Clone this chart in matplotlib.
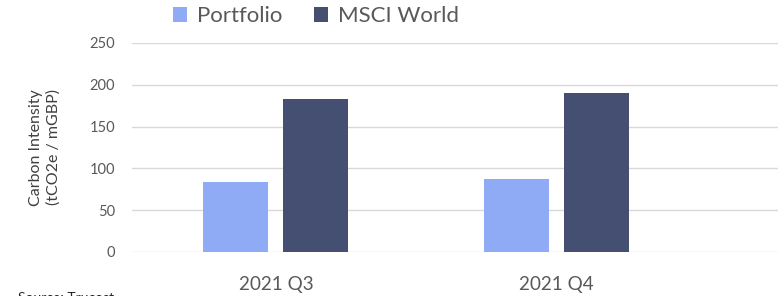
import matplotlib
matplotlib.use("Agg")
import matplotlib.pyplot as plt
import numpy as np

categories = ["2021 Q3", "2021 Q4"]
portfolio = [84, 87]
msci_world = [183, 190]
yticks = [0, 50, 100, 150, 200, 250]

plt.rcParams['font.family'] = ['Lato', 'DejaVu Sans']

fig = plt.figure(figsize=(7.84, 2.96), dpi=100)
ax = fig.add_axes([0.168, 0.149, 0.824, 0.706])

x = np.arange(len(categories))
w = 0.232
off = 0.1425
ax.bar(x - off, portfolio, w, color="#90abf5", label="Portfolio", zorder=3)
ax.bar(x + off, msci_world, w, color="#454f72", label="MSCI World", zorder=3)

ax.set_ylim(0, 250)
ax.set_xlim(-0.514, 1.79)
ax.set_yticks(yticks)
ax.set_xticks(x)
ax.set_xticklabels(categories, fontsize=13.6, color="#595959")
ax.tick_params(axis='x', length=0, pad=17)
ax.tick_params(axis='y', length=0, pad=12, labelsize=10.5, labelcolor="#595959")
ax.grid(axis='y', color="#d9d9d9", linewidth=1, zorder=0)
for s in ax.spines.values():
    s.set_visible(False)

ax.set_ylabel("Carbon Intensity\n(tCO2e / mGBP)", fontsize=11.5, color="#404040",
              linespacing=1.25)
ax.yaxis.set_label_coords(-0.11, 0.50)

leg = fig.legend(loc="center left", bbox_to_anchor=(0.195, 0.945), ncol=2, frameon=False,
                 fontsize=16, handlelength=0.65, handleheight=0.65, columnspacing=1.4,
                 handletextpad=0.45, labelcolor="#595959")

fig.text(0.023, 0.012, "Source: Trucost", fontsize=10, color="#222222", va="top")

fig.savefig("out.png", dpi=100)
